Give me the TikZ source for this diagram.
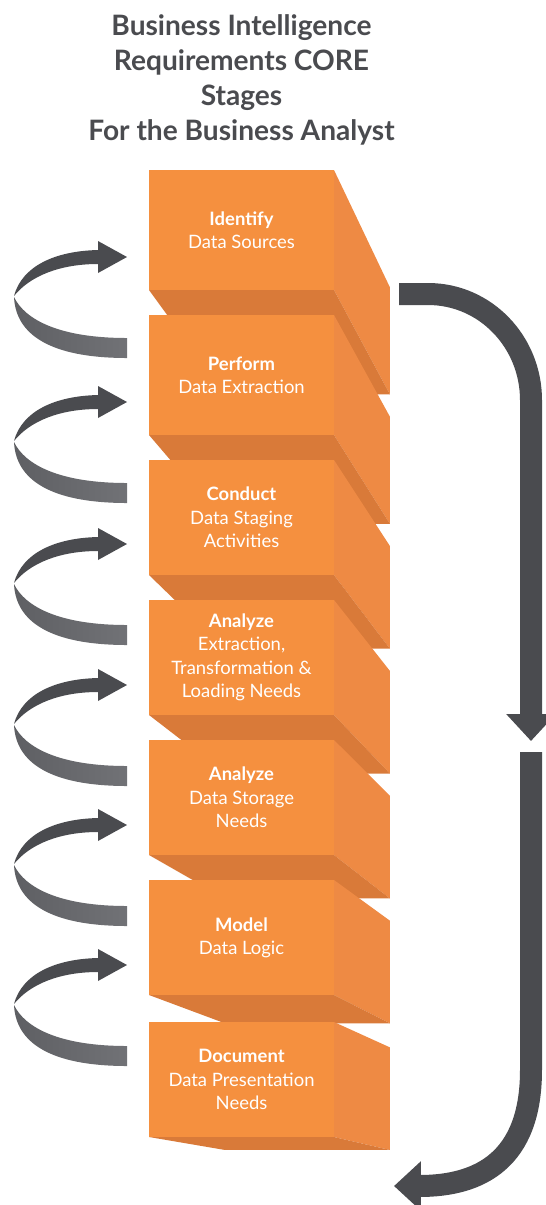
\documentclass[tikz,border=0pt]{standalone}
\usepackage{fontspec}
\setmainfont{Lato}
\usepackage{tikz}
\usetikzlibrary{calc,arrows.meta}

\definecolor{stagefront}{HTML}{F5903F}
\definecolor{stageside}{HTML}{EE8A44}
\definecolor{stagebottom}{HTML}{D97A39}
\definecolor{slate}{HTML}{4A4B4F}
\definecolor{slatemid}{HTML}{5E5F63}
\definecolor{slatelight}{HTML}{717276}

\tikzset{
  front/.style={fill=stagefront, text=white, inner sep=0pt, outer sep=0pt,
    minimum width=3.7cm, align=center, font=\fontsize{10.5}{13.3}\selectfont},
  flow/.style={slate, line width=0.44cm, -{Triangle[length=0.54cm,width=0.96cm]}},
}

% how far the back face sits towards the vanishing point
\newcommand{\stagedepth}{0.108}
% one block of the stack: name, top and bottom of the front face, label
\newcommand{\stageblock}[4]{%
  \coordinate (#1-tr) at (334,#2);
  \coordinate (#1-br) at (334,#3);
  \coordinate (#1-bl) at (149,#3);
  \fill[stageside] (#1-tr) -- ($(#1-tr)!\stagedepth!(vp)$) -- ($(#1-br)!\stagedepth!(vp)$) -- (#1-br) -- cycle;
  \fill[stagebottom] (#1-bl) -- ($(#1-bl)!\stagedepth!(vp)$) -- ($(#1-br)!\stagedepth!(vp)$) -- (#1-br) -- cycle;
  \node[front, minimum height={(#3-#2)*0.02cm}] (#1) at (241.5,{(#2+#3)/2}) {#4};
}

\begin{document}
\begin{tikzpicture}[x=0.02cm,y=-0.02cm]
  \useasboundingbox (0,0) rectangle (546,1205);

  \node[font=\fontsize{16}{20}\selectfont\bfseries, text=slate, align=center] (title)
    at (241.5,80) {Business Intelligence\\Requirements CORE\\Stages\\For the Business Analyst};

  \coordinate (vp) at (852,1257);

  % the stack, top block first so each one covers the one above
  \stageblock{identify}{170}{290}{{\bfseries Identify}\\Data Sources}
  \stageblock{perform}{315}{435}{{\bfseries Perform}\\Data Extraction}
  \stageblock{conduct}{460}{575}{{\bfseries Conduct}\\Data Staging\\Activities}
  \stageblock{etl}{600}{715}{{\bfseries Analyze}\\Extraction,\\Transformation \&\\Loading Needs}
  \stageblock{storage}{740}{855}{{\bfseries Analyze}\\Data Storage\\Needs}
  \stageblock{model}{880}{995}{{\bfseries Model}\\Data Logic}
  \stageblock{document}{1022}{1137}{{\bfseries Document}\\Data Presentation\\Needs}

  % curled ribbons going back up the stack
  \foreach \hy in {257,402,544,685,825,965} {
    \begin{scope}[shift={(0,\hy-257)}]
      \shade[left color=slatemid, right color=slatelight]
        (14,297) .. controls (16,340) and (60,358) .. (127,358) -- (127,338)
        .. controls (60,338) and (25,320) .. (14,297) -- cycle;
      \fill[slate]
        (98,250) .. controls (55,251) and (22,266) .. (14,296)
        .. controls (30,276) and (60,264) .. (98,264)
        -- (98,273) -- (127,257) -- (98,241) -- cycle;
    \end{scope}
  }

  % the long arrow down the right side
  \coordinate (flowstart) at (399,294);
  \coordinate (flowmid) at (531,741);
  \coordinate (flowresume) at (531,752);
  \coordinate (flowend) at (394,1186);
  \draw[flow] (flowstart) -- (428,294) to[out=0,in=90] (531,400) -- (flowmid);
  \draw[flow] (flowresume) -- (531,1070) .. controls (531,1160) and (480,1186) .. (flowend);
\end{tikzpicture}
\end{document}
